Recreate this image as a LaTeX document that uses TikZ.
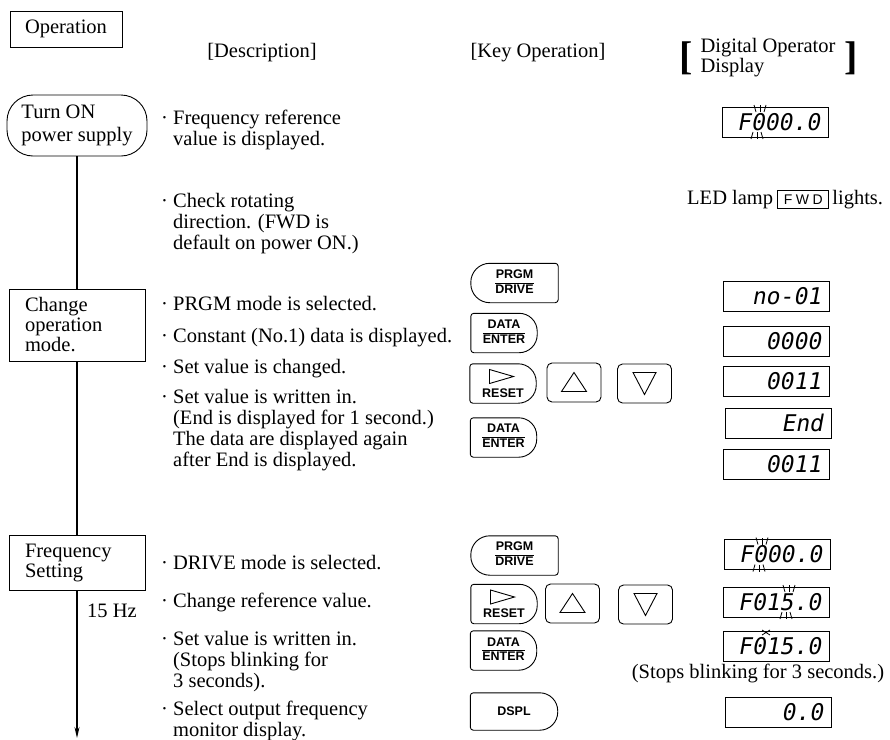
\documentclass[tikz,border=0pt]{standalone}
\usepackage{fontspec}
\setmainfont{Liberation Serif}
\setsansfont{Liberation Sans}
\newfontfamily\segfont{DejaVu Sans Mono}[FakeSlant=0.18]
\usetikzlibrary{positioning, arrows.meta}

\newcommand{\bul}[1]{\textperiodcentered\ \begin{tabular}[t]{@{}l@{}}#1\end{tabular}}
\newcommand{\keylabel}[2]{\renewcommand{\arraystretch}{1.15}\begin{tabular}{@{}c@{}}#1\\\hline #2\end{tabular}}
\newcommand{\keyshape}[3]{%
  \draw[keyline, rounded corners=#3] (#1.north) -- (#1.north east) -- (#1.south east)
    [rounded corners=#2] -- (#1.south west) -- (#1.north west) -- cycle;}
\newcommand{\blinkmark}[2]{%
  \foreach \dx/\tx in {-4/-2,0/0,4/2}
    \draw[blinkline] ({#1+\dx+2},{#2-10}) -- ({#1+\dx+\tx+2},{#2-17})
                     ({#1+\dx-1},{#2+10}) -- ({#1+\dx+\tx-1},{#2+17});}

\begin{document}
\begin{tikzpicture}[x=1pt, y=-1pt, font=\fontsize{20.5}{21}\selectfont]
% Define styles
\tikzstyle{headbox}=[rectangle, draw, line width=0.9pt, minimum width=112pt, minimum height=36pt]
\tikzstyle{startbox}=[rectangle, draw, line width=0.9pt, rounded corners=26pt, minimum width=140pt, minimum height=61pt, align=left]
\tikzstyle{flowbox}=[rectangle, draw, line width=0.9pt, minimum width=136pt, text width=104pt, align=left]
\tikzstyle{bracket}=[inner sep=0pt, font=\fontsize{40}{40}\selectfont\bfseries]
\tikzstyle{desc}=[anchor=base west, inner sep=0pt]
\tikzstyle{keyline}=[line width=0.9pt]
\tikzstyle{keytext}=[inner sep=0pt, font=\fontsize{12.5}{12.5}\selectfont\sffamily\bfseries]
\tikzstyle{keybase}=[keytext, minimum height=39pt]
\tikzstyle{widekey}=[keybase, minimum width=87pt]
\tikzstyle{smallkey}=[keybase, minimum width=66pt]
\tikzstyle{arrowkey}=[keybase, draw, line width=0.9pt, rounded corners=5pt, minimum width=54pt]
\tikzstyle{lcd}=[draw, line width=0.9pt, minimum height=30pt, text width=90pt, align=right, inner xsep=8pt, inner ysep=0pt, font=\fontsize{23}{23}\selectfont\segfont]
\tikzstyle{fwdbox}=[draw, line width=0.9pt, minimum height=18pt, inner xsep=6pt, inner ysep=2pt, font=\fontsize{14}{14}\selectfont\sffamily\addfontfeatures{LetterSpace=25}]
\tikzstyle{blinkline}=[line width=0.8pt]
\tikzstyle{flowline}=[line width=1.2pt]
\tikzstyle{arrow}=[flowline, -{Stealth[length=11pt, width=5pt]}]
\useasboundingbox (0,0) rectangle (890,739);
% Headings
\node[headbox] (operation) at (66,29) {Operation};
\node[anchor=base] (deschead) at (262,57) {[Description]};
\node[anchor=base] (keyhead) at (538,57) {[Key Operation]};
\node[font=\fontsize{20.5}{17}\selectfont, inner sep=0pt] (disphead) at (768,58) {\begin{tabular}{@{}l@{}}Digital Operator\\Display\end{tabular}};
\node[bracket, left=7pt of disphead] (lbrack) {[};
\node[bracket, right=9pt of disphead] (rbrack) {]};
% Flow of operation
\node[startbox, font=\fontsize{20.5}{23}\selectfont] (poweron) at (77,125.5) {Turn ON\\power supply};
\node[flowbox, minimum height=72pt, font=\fontsize{20.5}{20}\selectfont] (changemode) at (77,325) {Change\\operation\\mode.};
\node[flowbox, minimum height=55pt, font=\fontsize{20.5}{20}\selectfont] (freqset) at (77,562.5) {Frequency\\Setting};
\coordinate (flowend) at (77,738);
\node[anchor=base] (hz) at (112,617) {15 Hz};
\draw[flowline] (poweron) -- (changemode);
\draw[flowline] (changemode) -- (freqset);
\draw[arrow] (freqset) -- (flowend);
% Descriptions
\node[desc] (d1) at (161,124) {\bul{Frequency reference\\value is displayed.}};
\node[desc] (d2) at (161,207) {\bul{Check rotating\\direction. (FWD is\\default on power ON.)}};
\node[desc] (d3) at (161,310) {\bul{PRGM mode is selected.}};
\node[desc] (d4) at (161,342) {\bul{Constant (No.1) data is displayed.}};
\node[desc] (d5) at (161,373) {\bul{Set value is changed.}};
\node[desc] (d6) at (161,403) {\bul{Set value is written in.\\(End is displayed for 1 second.)\\The data are displayed again\\after End is displayed.}};
\node[desc] (d7) at (161,569) {\bul{DRIVE mode is selected.}};
\node[desc] (d8) at (161,607) {\bul{Change reference value.}};
\node[desc] (d9) at (161,645) {\bul{Set value is written in.\\(Stops blinking for\\3 seconds).}};
\node[desc] (d10) at (161,715) {\bul{Select output frequency\\monitor display.}};
% Keys
\node[widekey] (prgm1) at (514.5,283) {\keylabel{PRGM}{DRIVE}};
\node[smallkey] (enter1) at (504,333) {\keylabel{DATA}{ENTER}};
\node[smallkey] (reset1) at (503,383.5) {};
\node[keytext, anchor=base] (resettext1) at ([yshift=-13.5pt]reset1.center) {RESET};
\node[arrowkey] (up1) at (574,382.5) {};
\node[arrowkey] (down1) at (644.5,383.5) {};
\node[smallkey] (enter2) at (503.5,437.5) {\keylabel{DATA}{ENTER}};
\node[widekey] (prgm2) at (514.5,555.5) {\keylabel{PRGM}{DRIVE}};
\node[smallkey] (reset2) at (504,604) {};
\node[keytext, anchor=base] (resettext2) at ([yshift=-13.5pt]reset2.center) {RESET};
\node[arrowkey] (up2) at (572.5,603.5) {};
\node[arrowkey] (down2) at (645.5,604.5) {};
\node[smallkey] (enter3) at (503.5,650.5) {\keylabel{DATA}{ENTER}};
\node[widekey, minimum height=37pt] (dspl) at (514,711.5) {DSPL};
\foreach \k in {prgm1,prgm2} {\keyshape{\k}{19pt}{3pt}}
\foreach \k in {enter1,reset1,enter2,reset2,enter3,dspl} {\keyshape{\k}{3pt}{18pt}}
\foreach \k in {up1,up2} \draw[keyline] (\k.center) ++(0,-10) -- ++(12.5,19) -- ++(-25,0) -- cycle;
\foreach \k in {down1,down2} \draw[keyline] (\k.center) ++(0,11) -- ++(11.5,-22) -- ++(-23,0) -- cycle;
\foreach \k in {reset1,reset2} \draw[keyline] (\k.center) ++(-13.5,-14) -- ++(24,7) -- ++(-24,7) -- cycle;
% Displays
\node[lcd] (disp0) at (775,122) {F000.0};
\node[lcd] (disp1) at (776,296) {no-01};
\node[lcd] (disp2) at (776,341) {0000};
\node[lcd] (disp3) at (776,381) {0011};
\node[lcd] (disp4) at (778,423) {End};
\node[lcd] (disp5) at (776,464) {0011};
\node[lcd] (disp6) at (777,554.5) {F000.0};
\node[lcd] (disp7) at (776,602) {F015.0};
\node[lcd] (disp8) at (776,646) {F015.0};
\node[lcd] (disp9) at (778,712.5) {0.0};
\blinkmark{758}{122}
\blinkmark{760}{554.5}
\blinkmark{787}{602}
\draw[blinkline] (762,630) -- (770,635) (762,635) -- (770,630);
% Lamp and notes
\node[anchor=base west, inner sep=1pt] (ledlamp) at (686,204) {LED lamp};
\node[fwdbox, base right=3pt of ledlamp] (fwd) {FWD};
\node[inner sep=1pt, base right=2pt of fwd] (lights) {lights.};
\node[anchor=base] (stopnote) at (758,678) {(Stops blinking for 3 seconds.)};
\end{tikzpicture}
\end{document}
